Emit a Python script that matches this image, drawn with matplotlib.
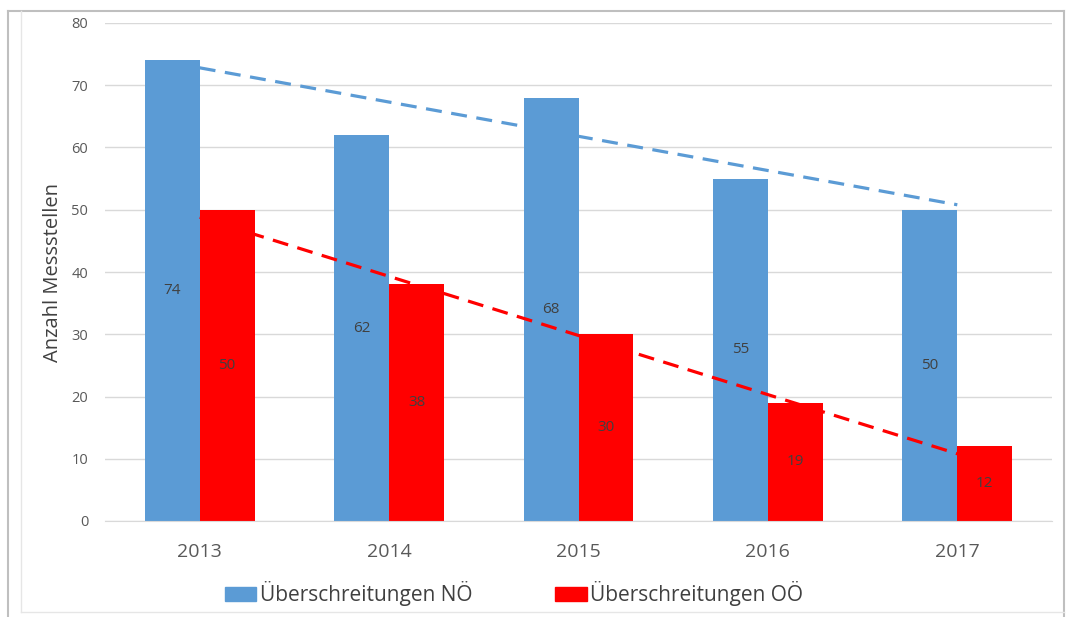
import numpy as np
import matplotlib.pyplot as plt
from matplotlib.patches import Rectangle
from matplotlib.lines import Line2D

years = ["2013", "2014", "2015", "2016", "2017"]
noe = [74, 62, 68, 55, 50]
ooe = [50, 38, 30, 19, 12]
label_noe = "Überschreitungen NÖ"
label_ooe = "Überschreitungen OÖ"

blue = "#5b9bd5"
red = "#ff0000"

plt.rcParams["font.family"] = ["Open Sans", "DejaVu Sans"]

fig = plt.figure(figsize=(10.66, 6.17), dpi=100)
ax = fig.add_axes([105 / 1066, 1 - 521 / 617, 947 / 1066, 498 / 617])

x = np.arange(len(years))
w = 0.29
b1 = ax.bar(x - w / 2, noe, w, color=blue, label=label_noe, zorder=2)
b2 = ax.bar(x + w / 2, ooe, w, color=red, label=label_ooe, zorder=2)

# value labels in the middle of each bar
for bars, vals in ((b1, noe), (b2, ooe)):
    for r, v in zip(bars, vals):
        ax.text(r.get_x() + r.get_width() / 2, v / 2, str(v), ha="center", va="center",
                fontsize=11, color="#404040", zorder=4)

# linear trend lines over the category centres
for vals, c in ((noe, blue), (ooe, red)):
    k, d = np.polyfit(x, vals, 1)
    ax.plot(x, k * x + d, color=c, lw=2.3, ls=(0, (5, 3)), zorder=3)

ax.set_xlim(-0.5, 4.5)
ax.set_ylim(0, 80)
ax.set_yticks(range(0, 81, 10))
ax.set_xticks(x)
ax.set_xticklabels(years)
ax.yaxis.grid(True, color="#d9d9d9", lw=1)
ax.set_axisbelow(True)
for s in ("top", "right", "left"):
    ax.spines[s].set_visible(False)
ax.spines["bottom"].set_color("#d9d9d9")
ax.tick_params(axis="y", length=0, pad=12, labelsize=10.5, labelcolor="#595959")
ax.tick_params(axis="x", length=0, pad=16, labelsize=14, labelcolor="#595959")
ax.set_ylabel("Anzahl Messstellen", fontsize=14.5, color="#404040", va="center")
ax.yaxis.set_label_coords(-52 / 947, 0.5)

handles = [Rectangle((0, 0), 1, 1, color=blue), Rectangle((0, 0), 1, 1, color=red)]
fig.legend(handles, [label_noe, label_ooe], loc="center", bbox_to_anchor=(514 / 1066, 1 - 594 / 617),
           ncol=2, frameon=False, fontsize=15, handlelength=1.5, handleheight=0.67,
           handletextpad=0.15, columnspacing=4.0, labelcolor="#404040")

# chart frame
fig.add_artist(Line2D([8 / 1066, 8 / 1066], [0, 1 - 11 / 617], color="#bfbfbf", lw=1.5))
fig.add_artist(Line2D([8 / 1066, 1064 / 1066], [1 - 11 / 617, 1 - 11 / 617], color="#bfbfbf", lw=1.5))
fig.add_artist(Line2D([1064 / 1066, 1064 / 1066], [0, 1 - 11 / 617], color="#bfbfbf", lw=1.5))
fig.add_artist(Line2D([21 / 1066, 21 / 1066], [1 - 612 / 617, 1 - 11 / 617], color="#e6e6e6", lw=1))
fig.add_artist(Line2D([21 / 1066, 1064 / 1066], [1 - 612 / 617, 1 - 612 / 617], color="#e6e6e6", lw=1))

fig.savefig("out.png", dpi=100)
